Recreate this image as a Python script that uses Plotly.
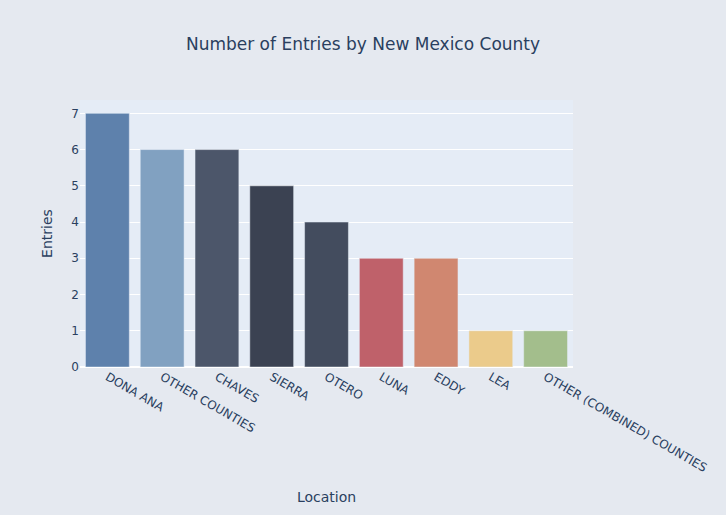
import plotly.graph_objects as go

counties = ["DONA ANA", "OTHER COUNTIES", "CHAVES", "SIERRA", "OTERO", "LUNA", "EDDY", "LEA", "OTHER (COMBINED) COUNTIES"]
entries = [7, 6, 6, 5, 4, 3, 3, 1, 1]
colors = ["#5E81AC", "#81A1C1", "#4C566A", "#3B4252", "#434C5E", "#BF616A", "#D08770", "#EBCB8B", "#A3BE8C"]

fig = go.Figure(go.Bar(x=counties, y=entries, marker_color=colors,
                       marker_line=dict(color="#E5ECF6", width=0.5)))
fig.update_layout(
    font=dict(family="Verdana, DejaVu Sans, sans-serif"),
    title=dict(text="Number of Entries by New Mexico County", x=0.5, xanchor="center"),
    xaxis=dict(title=dict(text="Location", standoff=18), tickangle=30, automargin=True),
    yaxis=dict(title="Entries"),
    margin=dict(l=80, r=153, t=100, b=148),
    paper_bgcolor="#E5E9F0",
    plot_bgcolor="#E5ECF6",
    width=726, height=515,
    showlegend=False,
)
fig.write_html("out.html")
